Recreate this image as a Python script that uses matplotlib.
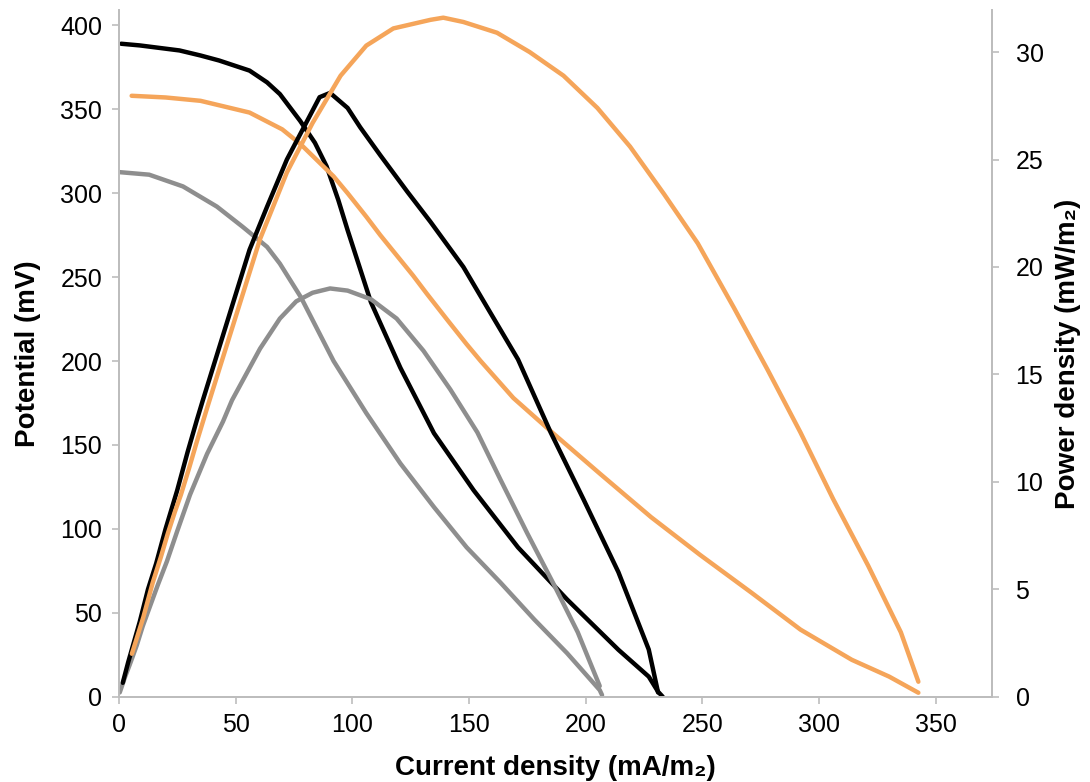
import matplotlib.pyplot as plt
from matplotlib import font_manager

# Polarization curves (potential, mV) vs current density (mA/m2)
black_v_x = [1, 9, 26, 35, 43, 56, 63.5, 69, 77.7, 84, 89, 94, 98, 108, 120.6, 135, 152,
             171, 192, 214, 227, 231, 233]
black_v_y = [389, 388, 385, 382, 379, 373, 366, 359, 343, 330, 316, 296, 278, 235, 196, 157, 123,
             89, 58, 28, 12, 3, 0]

orange_v_x = [5.5, 20, 35, 56, 70, 78, 92, 98, 106, 112, 126, 132, 141, 149, 155, 169, 186, 206,
              228, 249, 271, 292, 314, 330, 342.5]
orange_v_y = [358, 357, 355, 348, 338, 329, 310, 300, 286, 275, 251, 240, 224, 210, 200, 178, 157, 133,
              107, 84.5, 62, 40, 22, 12, 2.4]

grey_v_x = [0.4, 13, 27.5, 42, 53, 63.5, 69, 78, 92, 106, 120.6, 135, 149, 163.5, 178, 192, 206, 207]
grey_v_y = [312.5, 311, 304, 292, 280, 268, 258, 238, 200, 169, 139, 113, 89, 68, 46, 26, 4, 1]

# Power density curves (mW/m2)
black_p_x = [1.7, 4, 9, 12.5, 16, 20, 25, 29.5, 33.5, 36, 56, 63.5, 72, 80.7, 86, 90.5, 98, 103.4,
             112, 123.6, 133.5, 147.6, 159, 171, 185, 199, 214, 227, 231]
black_p_y = [0.65, 1.6, 3.5, 5.0, 6.2, 7.8, 9.6, 11.4, 12.9, 13.8, 20.8, 22.8, 25.0, 26.8, 27.9, 28.1, 27.4, 26.5,
             25.2, 23.5, 22.1, 20.0, 17.9, 15.7, 12.3, 9.2, 5.8, 2.2, 0.2]

orange_p_x = [5.6, 10.5, 14.5, 18, 21, 24, 26.6, 30, 33.5, 38, 60.5, 72, 83, 95, 106, 117.6, 133.5, 139,
              147.6, 162, 176, 190.5, 205, 219, 233.5, 248, 263.5, 278, 292, 306, 321, 335, 342.5]
orange_p_y = [2.0, 3.7, 5.3, 6.5, 7.6, 8.6, 9.4, 10.6, 11.9, 13.5, 21.3, 24.4, 26.7, 28.9, 30.3, 31.1, 31.5, 31.6,
              31.4, 30.9, 30.0, 28.9, 27.4, 25.6, 23.4, 21.1, 18.1, 15.2, 12.3, 9.2, 6.1, 3.0, 0.7]

grey_p_x = [0.4, 2.6, 4.7, 7.7, 10.3, 14, 16.7, 20.6, 25, 30.5, 37.8, 44.6, 48.5, 60.5, 69, 76, 83, 90.5,
            98, 108, 119, 130.5, 142, 153.6, 163.5, 175, 186, 196.6, 206]
grey_p_y = [0.2, 0.9, 1.5, 2.4, 3.3, 4.4, 5.2, 6.3, 7.7, 9.4, 11.3, 12.8, 13.8, 16.2, 17.6, 18.4, 18.8, 19.0,
            18.9, 18.5, 17.6, 16.1, 14.3, 12.3, 10.1, 7.6, 5.3, 3.0, 0.5]

x_ticks = [0, 50, 100, 150, 200, 250, 300, 350]
v_ticks = [0, 50, 100, 150, 200, 250, 300, 350, 400]
p_ticks = [0, 5, 10, 15, 20, 25, 30]

ORANGE = '#F5A55A'
GREY = '#8E8E8E'
BLACK = '#000000'
SPINE = '#BDBDBD'

names = {f.name for f in font_manager.fontManager.ttflist}
label_font = 'Liberation Sans Narrow' if 'Liberation Sans Narrow' in names else 'Liberation Sans'
plt.rcParams['font.family'] = ['Liberation Sans', 'DejaVu Sans']

fig = plt.figure(figsize=(10.9, 7.82), dpi=100)
ax = fig.add_axes([0.109, 0.109, 0.801, 0.878])
ax2 = ax.twinx()

lw = 3.2
ax.plot(grey_v_x, grey_v_y, color=GREY, lw=lw, solid_capstyle='round')
ax2.plot(grey_p_x, grey_p_y, color=GREY, lw=lw, solid_capstyle='round')
ax.plot(black_v_x, black_v_y, color=BLACK, lw=lw, solid_capstyle='round')
ax2.plot(black_p_x, black_p_y, color=BLACK, lw=lw, solid_capstyle='round')
ax.plot(orange_v_x, orange_v_y, color=ORANGE, lw=lw, solid_capstyle='round')
ax2.plot(orange_p_x, orange_p_y, color=ORANGE, lw=lw, solid_capstyle='round')

ax.set_xlim(0, 374)
ax.set_ylim(0, 409)
ax2.set_ylim(0, 31.95)
ax.set_xticks(x_ticks)
ax.set_yticks(v_ticks)
ax2.set_yticks(p_ticks)

for a in (ax, ax2):
    a.spines['top'].set_visible(False)
    for s in ('left', 'right', 'bottom'):
        a.spines[s].set_color(SPINE)
        a.spines[s].set_linewidth(1.3)
    a.tick_params(colors=SPINE, labelcolor='black', labelsize=18, length=5, width=1.2)
ax.tick_params(axis='x', pad=7)
ax.tick_params(axis='y', pad=7)
ax2.tick_params(axis='y', pad=12)

lab = dict(fontsize=20, fontweight='bold', family=[label_font, 'DejaVu Sans'])
ax.set_xlabel('Current density (mA/m\u2082)', labelpad=13, **lab)
ax.set_ylabel('Potential (mV)', labelpad=14, **lab)
ax2.set_ylabel('Power density (mW/m\u2082)', labelpad=8, **lab)

fig.savefig('out.png', dpi=100)
